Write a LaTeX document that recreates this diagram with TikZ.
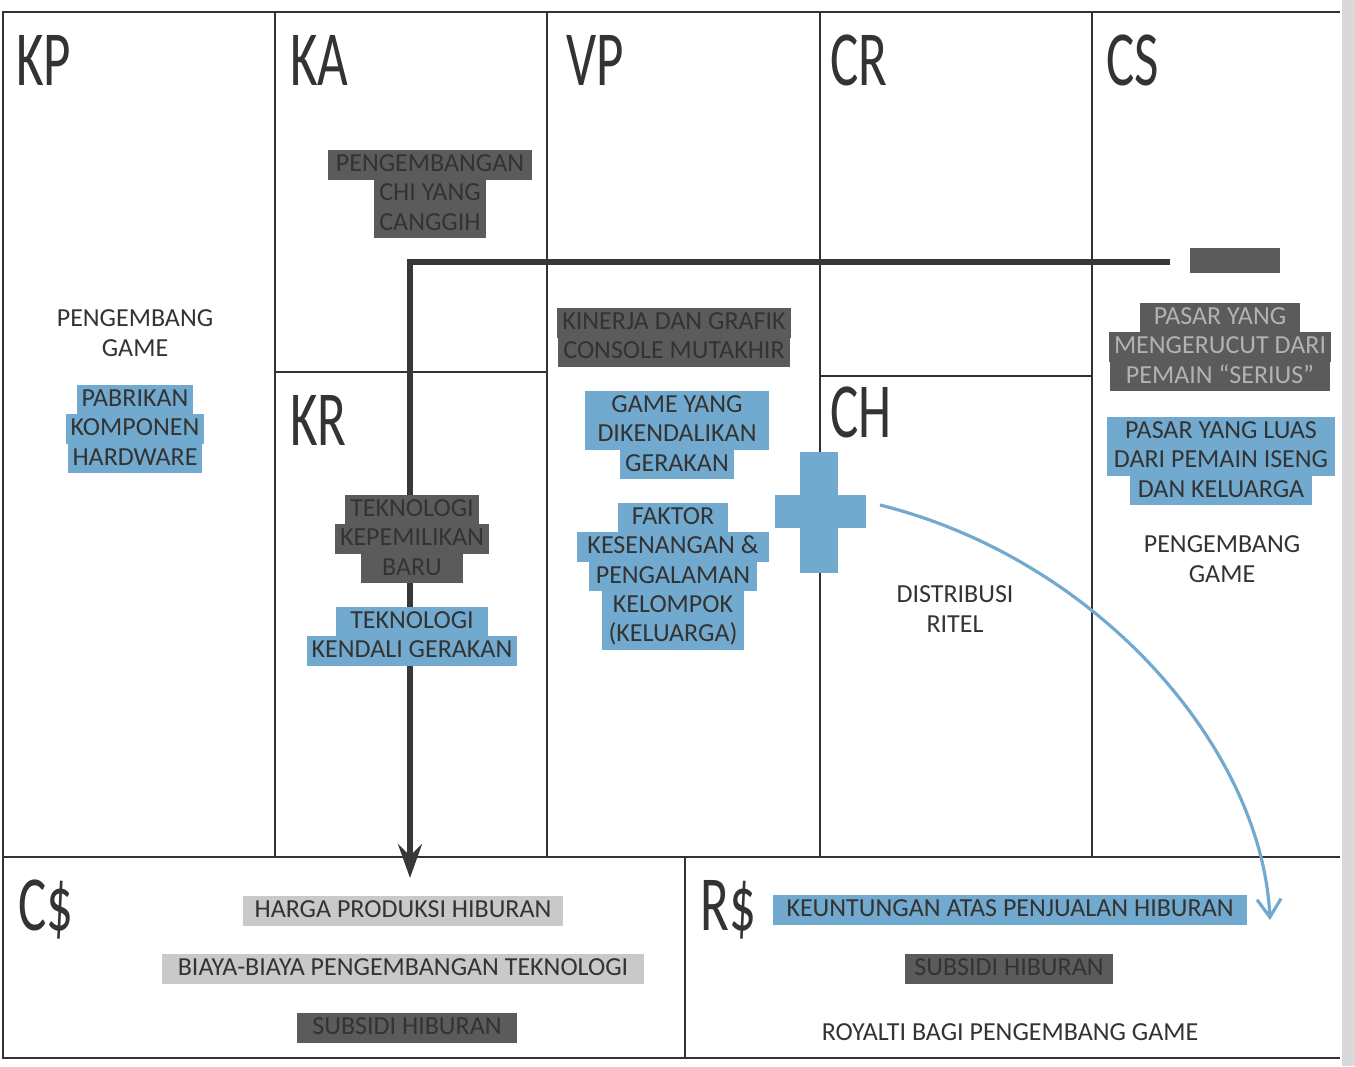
\documentclass[tikz,border=0pt]{standalone}
\usepackage{fontspec}
\setmainfont{Carlito}
\usetikzlibrary{positioning,arrows.meta}
\definecolor{hlblue}{HTML}{72AACF}
\definecolor{hldark}{HTML}{5B5B5B}
\definecolor{hllight}{HTML}{C9C9C9}
\definecolor{ink}{HTML}{333333}
\newcommand{\blockname}[1]{\scalebox{0.68}[1]{#1}}
\tikzset{
	gridline/.style={draw=ink, line width=0.8pt},
	blocktitle/.style={anchor=base west, inner sep=0pt, text=ink, font=\fontsize{39}{39}\selectfont},
	plaintext/.style={align=center, text=ink, font=\fontsize{13}{15}\selectfont},
	hl/.style={inner xsep=2.5pt, inner ysep=1pt, outer sep=0pt, text height=9.8pt, text depth=3.2pt, text=ink, font=\fontsize{13}{15}\selectfont},
	bluebox/.style={hl, fill=hlblue},
	darkbox/.style={hl, fill=hldark, text=black!80},
	lightbox/.style={hl, fill=hllight},
}
\begin{document}
\begin{tikzpicture}[x=0.5pt, y=-0.5pt, node distance=-0.4pt]
		\useasboundingbox (0,0) rectangle (1355,1066);
		\fill[gray!30] (1342,0) rectangle (1355,1066);
		
		% canvas
		\draw[gridline] (1340,12) -- (3,12) -- (3,1058) -- (1340,1058);
		\draw[gridline] (3,857) -- (1340,857);
		\foreach \x in {275,547,820,1092} \draw[gridline] (\x,12) -- (\x,857);
		\draw[gridline] (685,857) -- (685,1058);
		\draw[gridline] (275,372) -- (547,372);
		\draw[gridline] (820,376) -- (1092,376);
		
		\node[blocktitle] (KP) at (16,85) 	{\blockname{KP}};
		\node[blocktitle] (KA) at (290,85) 	{\blockname{KA}};
		\node[blocktitle] (VP) at (566,85) 	{\blockname{VP}};
		\node[blocktitle] (CR) at (830,85) 	{\blockname{CR}};
		\node[blocktitle] (CS) at (1106,85) {\blockname{CS}};
		\node[blocktitle] (KR) at (290,445) {\blockname{KR}};
		\node[blocktitle] (CH) at (830,437) {\blockname{CH}};
		\node[blocktitle] (Cost) at (18,930) {\blockname{C\$}};
		\node[blocktitle] (Rev) at (700,930) {\blockname{R\$}};
		
		% dark connector
		\coordinate (linestart) at (1170,262);
		\coordinate (linebend) 	at (410,262);
		\coordinate (linetip) 	at (410,878);
		\draw[draw=black!78, line width=2.6pt, -{Stealth[length=17pt, width=12pt, inset=6pt]}] (linestart) -- (linebend) -- (linetip);
		
		% KP
		\node[plaintext] (kpGame) at (135,333) {PENGEMBANG\\GAME};
		\node[bluebox] (kp1) at (135,400) {PABRIKAN};
		\node[bluebox, below=of kp1] (kp2) {KOMPONEN};
		\node[bluebox, below=of kp2] (kp3) {HARDWARE};
		
		% KA
		\node[darkbox, minimum width=102pt] (ka1) at (430,165) {PENGEMBANGAN};
		\node[darkbox, minimum width=55pt, below=of ka1] (ka2) {CHI YANG};
		\node[darkbox, minimum width=55pt, below=of ka2] (ka3) {CANGGIH};
		
		% KR
		\node[darkbox, minimum width=67pt] (kr1) at (412,510) {TEKNOLOGI};
		\node[darkbox, below=of kr1] (kr2) {KEPEMILIKAN};
		\node[darkbox, minimum width=51pt, below=of kr2] (kr3) {BARU};
		\node[bluebox, minimum width=76pt] (kr4) at (412,622) {TEKNOLOGI};
		\node[bluebox, below=of kr4] (kr5) {KENDALI GERAKAN};
		
		% VP
		\node[darkbox, minimum width=116pt] (vp1) at (674,323) {KINERJA DAN GRAFIK};
		\node[darkbox, minimum width=116pt, below=of vp1] (vp2) {CONSOLE MUTAKHIR};
		\node[bluebox, minimum width=92pt] (vp3) at (677,406) {GAME YANG};
		\node[bluebox, minimum width=92pt, below=of vp3] (vp4) {DIKENDALIKAN};
		\node[bluebox, minimum width=57pt, below=of vp4] (vp5) {GERAKAN};
		\node[bluebox, minimum width=55pt] (vp6) at (673,518) {FAKTOR};
		\node[bluebox, minimum width=96pt, below=of vp6] (vp7) {KESENANGAN \&};
		\node[bluebox, minimum width=84pt, below=of vp7] (vp8) {PENGALAMAN};
		\node[bluebox, minimum width=71pt, below=of vp8] (vp9) {KELOMPOK};
		\node[bluebox, minimum width=71pt, below=of vp9] (vp10) {(KELUARGA)};
		
		% CH
		\node[fill=hlblue, minimum width=45.5pt, minimum height=16.5pt, inner sep=0pt] (plusH) at (820,511) {};
		\node[fill=hlblue, minimum width=19pt, minimum height=60.5pt, inner sep=0pt] (plusV) at (819,512) {};
		\node[plaintext] (chRitel) at (955,609) {DISTRIBUSI\\RITEL};
		
		% CS
		\node[fill=hldark, minimum width=45pt, minimum height=12.5pt, inner sep=0pt] (csTop) at (1235,260) {};
		\node[darkbox, text=gray!60, minimum width=80pt] (cs1) at (1220,318) {PASAR YANG};
		\node[darkbox, text=gray!60, minimum width=110pt, below=of cs1] (cs2) {MENGERUCUT DARI};
		\node[darkbox, text=gray!60, minimum width=110pt, below=of cs2] (cs3) {PEMAIN “SERIUS”};
		\node[bluebox, minimum width=114pt] (cs4) at (1221,432) {PASAR YANG LUAS};
		\node[bluebox, minimum width=114pt, below=of cs4] (cs5) {DARI PEMAIN ISENG};
		\node[bluebox, minimum width=91pt, below=of cs5] (cs6) {DAN KELUARGA};
		\node[plaintext] (csGame) at (1222,559) {PENGEMBANG\\GAME};
		
		% C$ and R$
		\node[lightbox, minimum width=160pt] (cost1) at (403,911) {HARGA PRODUKSI HIBURAN};
		\node[lightbox, minimum width=241pt] (cost2) at (403,969) {BIAYA-BIAYA PENGEMBANGAN TEKNOLOGI};
		\node[darkbox, minimum width=110pt] (cost3) at (407,1028) {SUBSIDI HIBURAN};
		\node[bluebox, minimum width=237pt] (rev1) at (1010,910) {KEUNTUNGAN ATAS PENJUALAN HIBURAN};
		\node[darkbox, minimum width=104pt] (rev2) at (1009,969) {SUBSIDI HIBURAN};
		\node[plaintext] (rev3) at (1010,1032) {ROYALTI BAGI PENGEMBANG GAME};
		
		% blue connector
		\coordinate (curvestart) at (880,505);
		\coordinate (curvetip) 	at (1270,920);
		\draw[draw=hlblue, line width=1.6pt, -{Straight Barb[length=9pt, width=12pt]}] (curvestart) .. controls (1100,560) and (1262,750) .. (curvetip);
\end{tikzpicture}
\end{document}
